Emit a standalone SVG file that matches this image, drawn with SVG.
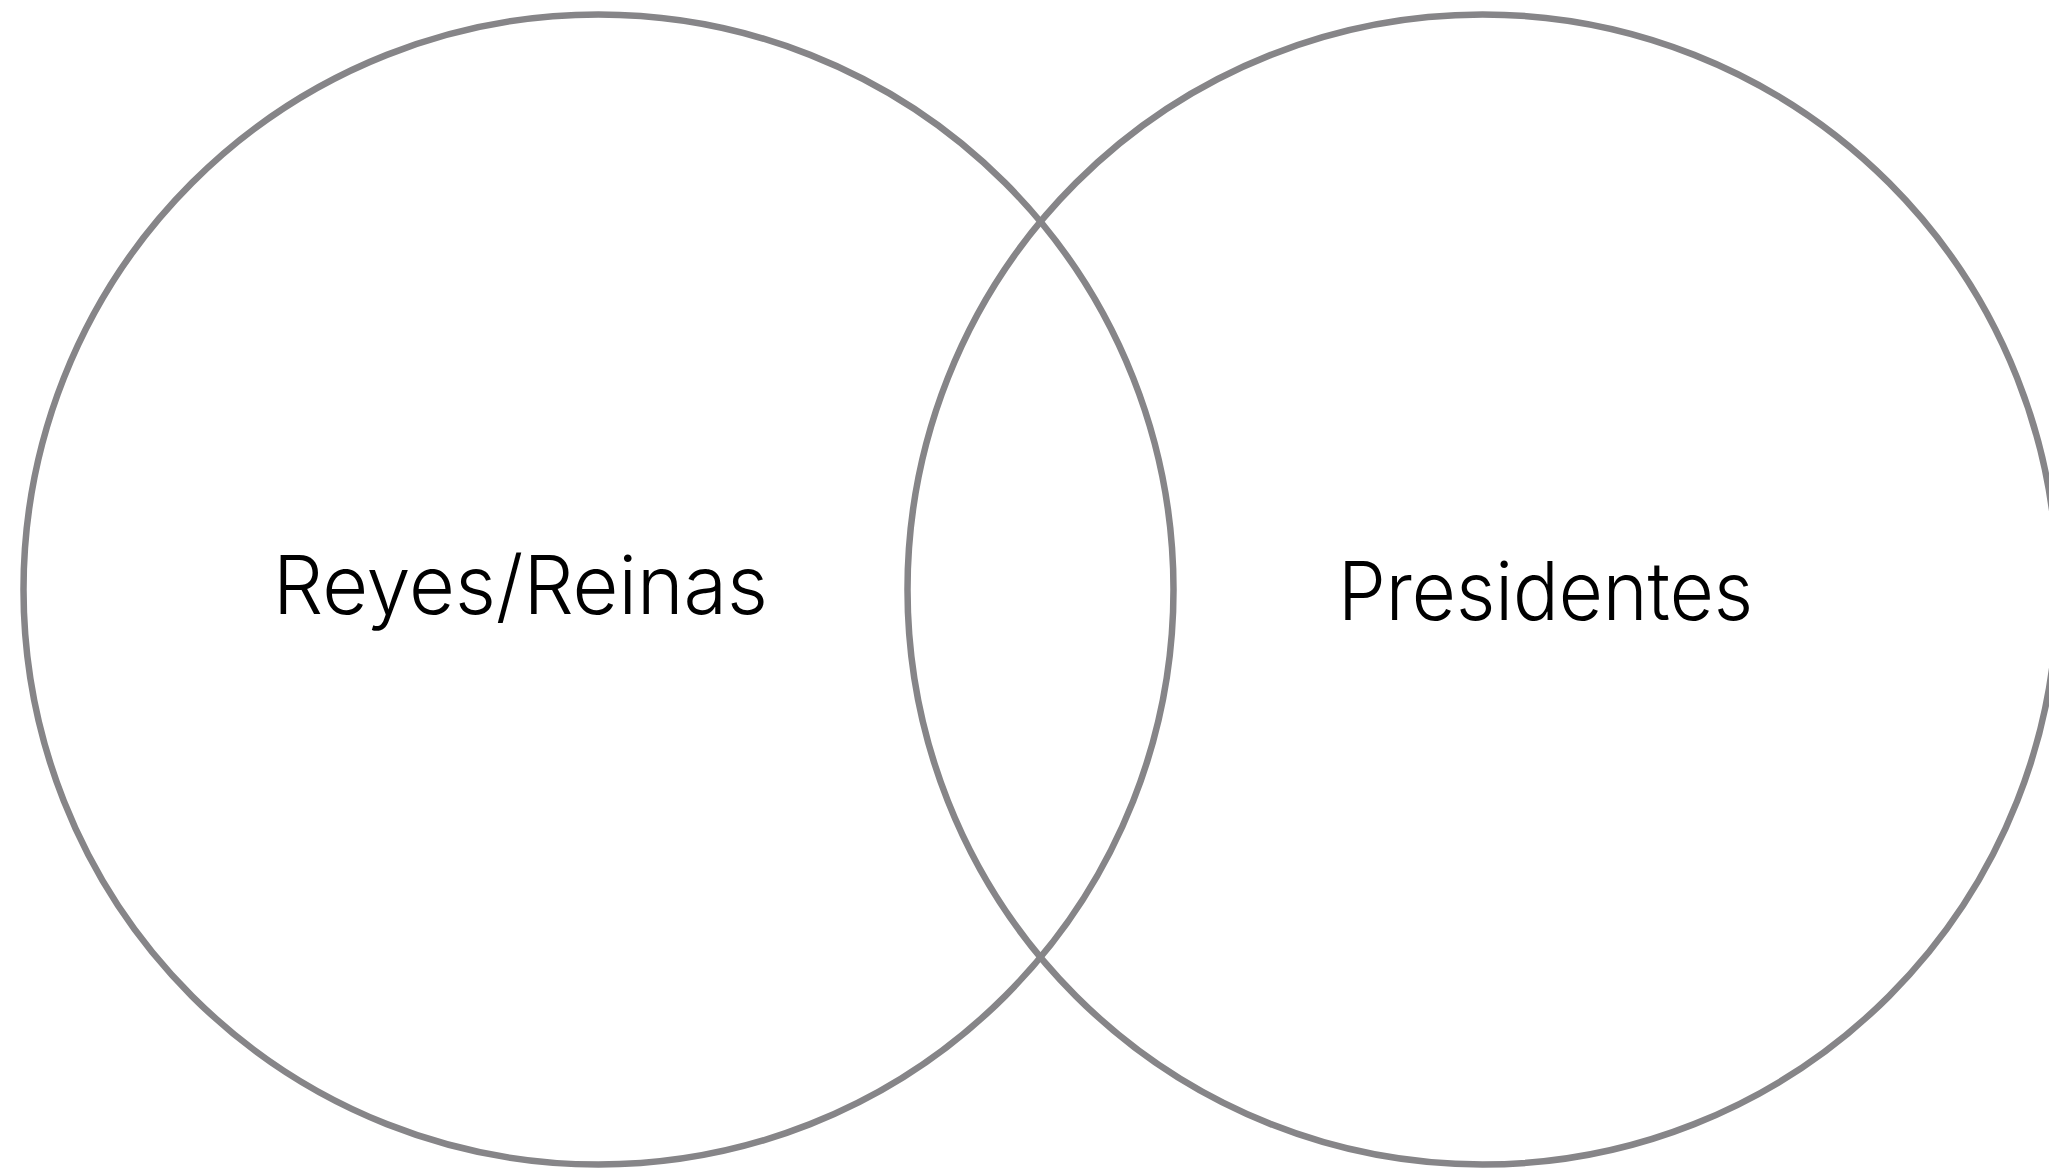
<svg xmlns="http://www.w3.org/2000/svg" width="2049" height="1171" viewBox="0 0 2049 1171">
<style>
.c{fill:none;stroke:#868588;stroke-width:6.5}
.t{font-family:Inter,"Open Sans","Liberation Sans",sans-serif;font-weight:350;font-size:81px;fill:#000;text-anchor:middle}
</style>
<rect width="2049" height="1171" fill="#fff"/>
<g id="set-reyes">
<circle class="c" cx="598.5" cy="589.5" r="575"/>
<text class="t" x="520.5" y="614" textLength="495" lengthAdjust="spacingAndGlyphs">Reyes/Reinas</text>
</g>
<g id="set-presidentes">
<circle class="c" cx="1482.5" cy="589.5" r="575"/>
<text class="t" x="1545.5" y="620" textLength="415" lengthAdjust="spacingAndGlyphs">Presidentes</text>
</g>
<g id="connectors"></g>
</svg>
